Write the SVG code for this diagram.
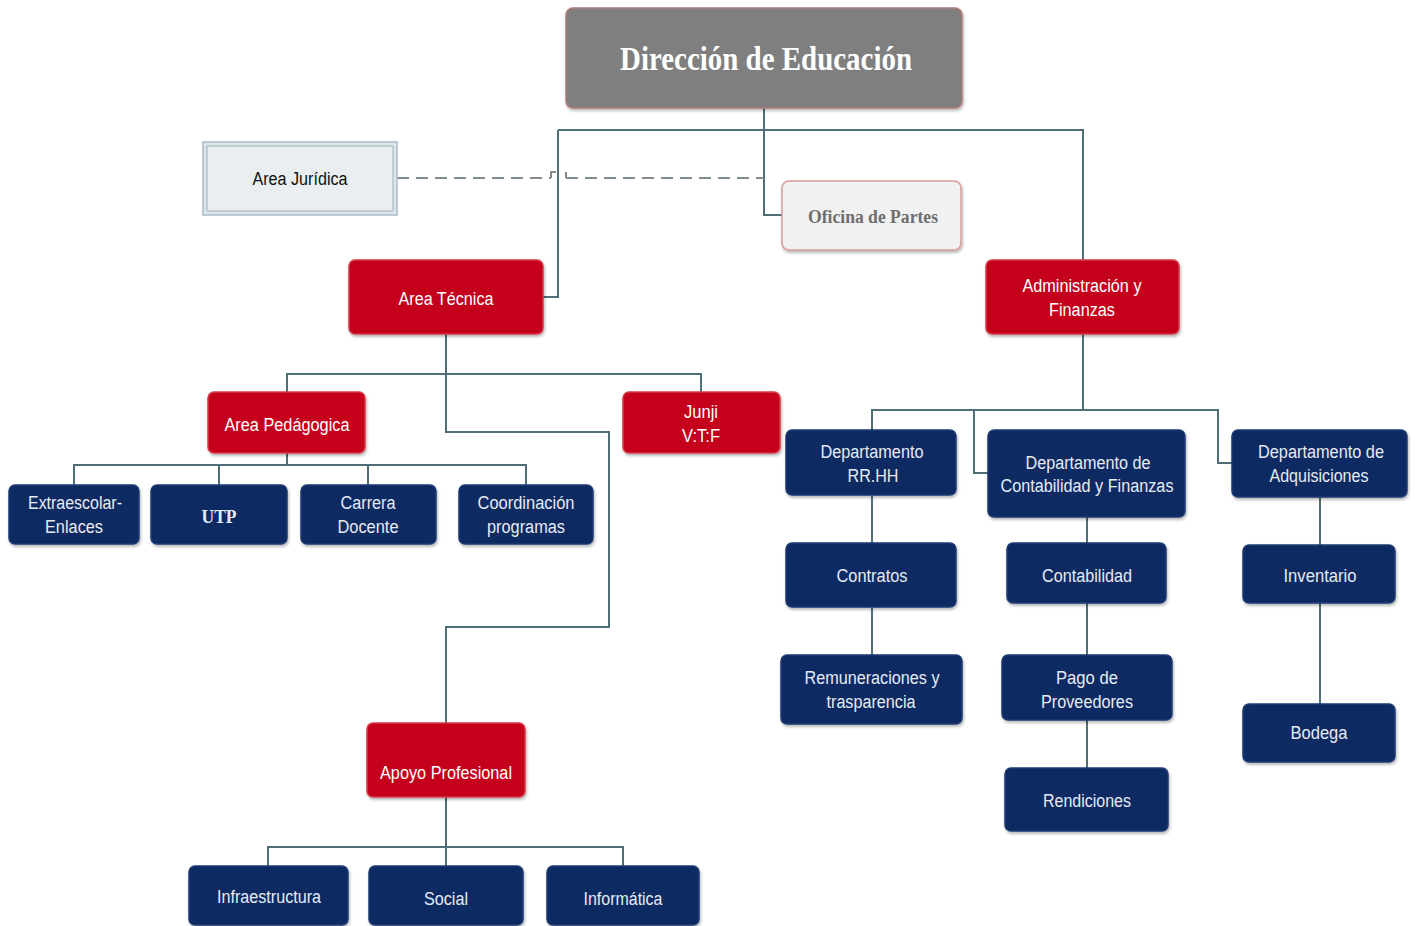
<svg xmlns="http://www.w3.org/2000/svg" width="1415" height="926" viewBox="0 0 1415 926">
<defs>
<style>
.t{font-family:"Liberation Sans",Arial,sans-serif;font-size:18px;text-anchor:middle;dominant-baseline:central}
.w{fill:#ffffff}
.l{fill:#e6eaf2}
.red{fill:#c4001a;stroke:#d63a48;stroke-width:1.5}
.navy{fill:#102c63;stroke:#1e3a72;stroke-width:1.5}
.c{fill:none;stroke:#4e6e78;stroke-width:2}
</style>
<filter id="sh" x="-5%" y="-5%" width="115%" height="125%"><feDropShadow dx="1" dy="2" stdDeviation="1.5" flood-color="#000" flood-opacity="0.3"/></filter>
</defs>
<rect width="1415" height="926" fill="#ffffff"/>

<g id="connectors">
<path class="c" d="M764,108 V215 H782"/>
<path class="c" d="M558,130 H1083 V260"/>
<path class="c" d="M558,130 V297 H543"/>
<path d="M397,178 H551 M551,178 v-6 h5 M566,172 v6 M566,178 H764" fill="none" stroke="#7f8b90" stroke-width="2" stroke-dasharray="12,7"/>
<path d="M551,172 h5 M566,172 v6" fill="none" stroke="#7f8b90" stroke-width="2"/>
<path class="c" d="M446,334 V432 H609 V627 H446 V723"/>
<path class="c" d="M287,392 V374 H701 V392"/>
<path class="c" d="M287,453 V465 M74,485 V465 H526 V485 M219,465 V485 M368,465 V485"/>
<path class="c" d="M446,797 V866 M268,866 V847 H623 V866"/>
<path class="c" d="M1083,334 V410 M872,430 V410 H1218 V463 H1232 M974,410 V473 H988"/>
<path class="c" d="M872,495 V655 M1087,517 V768 M1320,497 V704"/>
</g>

<g id="n-direccion">
<rect x="566" y="8" width="396" height="100" rx="7" fill="#7f7f7f" stroke="#b07a7a" stroke-width="1.5" filter="url(#sh)"/>
<text x="766" y="58" font-family="'Liberation Serif','Times New Roman',serif" font-weight="bold" font-size="34" fill="#ffffff" text-anchor="middle" dominant-baseline="central" textLength="292" lengthAdjust="spacingAndGlyphs">Dirección de Educación</text>
</g>
<g id="n-juridica">
<rect x="203" y="142" width="194" height="73" fill="#dde6ea" stroke="#a8bcc4" stroke-width="1.5"/>
<rect x="207" y="146" width="186" height="65" fill="#e9eef0" stroke="#b4c4ca" stroke-width="1.5"/>
<text class="t" x="300" y="179" font-size="17" fill="#111" textLength="95" lengthAdjust="spacingAndGlyphs">Area Jurídica</text>
</g>
<g id="n-oficina">
<rect x="782" y="181" width="179" height="69" rx="7" fill="#f1f1f1" stroke="#d99a9a" stroke-width="1.5" filter="url(#sh)"/>
<text x="873" y="217" font-family="'Liberation Serif','Times New Roman',serif" font-weight="bold" font-size="18" fill="#6e6e6e" text-anchor="middle" dominant-baseline="central" textLength="130" lengthAdjust="spacingAndGlyphs">Oficina de Partes</text>
</g>
<g id="n-tecnica">
<rect class="red" x="349" y="260" width="194" height="74" rx="6" filter="url(#sh)"/>
<text class="t w" x="446" y="299" textLength="95" lengthAdjust="spacingAndGlyphs">Area Técnica</text>
</g>
<g id="n-admin">
<rect class="red" x="986" y="260" width="193" height="74" rx="6" filter="url(#sh)"/>
<text class="t w" x="1082" y="286" textLength="119" lengthAdjust="spacingAndGlyphs">Administración y</text>
<text class="t w" x="1082" y="310" textLength="66" lengthAdjust="spacingAndGlyphs">Finanzas</text>
</g>
<g id="n-pedagogica">
<rect class="red" x="208" y="392" width="157" height="61" rx="6" filter="url(#sh)"/>
<text class="t w" x="287" y="425" textLength="125" lengthAdjust="spacingAndGlyphs">Area Pedágogica</text>
</g>
<g id="n-junji">
<rect class="red" x="623" y="392" width="157" height="61" rx="6" filter="url(#sh)"/>
<text class="t w" x="701" y="412" textLength="34" lengthAdjust="spacingAndGlyphs">Junji</text>
<text class="t w" x="701" y="436" textLength="38" lengthAdjust="spacingAndGlyphs">V:T:F</text>
</g>
<g id="n-extraescolar">
<rect class="navy" x="9" y="485" width="130" height="59" rx="6" filter="url(#sh)"/>
<text class="t l" x="75" y="503" textLength="94" lengthAdjust="spacingAndGlyphs">Extraescolar-</text>
<text class="t l" x="74" y="527" textLength="58" lengthAdjust="spacingAndGlyphs">Enlaces</text>
</g>
<g id="n-utp">
<rect class="navy" x="151" y="485" width="136" height="59" rx="6" filter="url(#sh)"/>
<text x="219" y="516" font-family="'Liberation Serif','Times New Roman',serif" font-weight="bold" font-size="19" fill="#e6eaf2" text-anchor="middle" dominant-baseline="central" textLength="35" lengthAdjust="spacingAndGlyphs">UTP</text>
</g>
<g id="n-carrera">
<rect class="navy" x="301" y="485" width="135" height="59" rx="6" filter="url(#sh)"/>
<text class="t l" x="368" y="503" textLength="55" lengthAdjust="spacingAndGlyphs">Carrera</text>
<text class="t l" x="368" y="527" textLength="61" lengthAdjust="spacingAndGlyphs">Docente</text>
</g>
<g id="n-coordinacion">
<rect class="navy" x="459" y="485" width="134" height="59" rx="6" filter="url(#sh)"/>
<text class="t l" x="526" y="503" textLength="97" lengthAdjust="spacingAndGlyphs">Coordinación</text>
<text class="t l" x="526" y="527" textLength="78" lengthAdjust="spacingAndGlyphs">programas</text>
</g>
<g id="n-apoyo">
<rect class="red" x="367" y="723" width="158" height="74" rx="6" filter="url(#sh)"/>
<text class="t w" x="446" y="773" textLength="132" lengthAdjust="spacingAndGlyphs">Apoyo Profesional</text>
</g>
<g id="n-infraestructura">
<rect class="navy" x="189" y="866" width="159" height="59" rx="6" filter="url(#sh)"/>
<text class="t l" x="269" y="897" textLength="104" lengthAdjust="spacingAndGlyphs">Infraestructura</text>
</g>
<g id="n-social">
<rect class="navy" x="369" y="866" width="154" height="59" rx="6" filter="url(#sh)"/>
<text class="t l" x="446" y="899" textLength="44" lengthAdjust="spacingAndGlyphs">Social</text>
</g>
<g id="n-informatica">
<rect class="navy" x="547" y="866" width="152" height="59" rx="6" filter="url(#sh)"/>
<text class="t l" x="623" y="899" textLength="79" lengthAdjust="spacingAndGlyphs">Informática</text>
</g>
<g id="n-rrhh">
<rect class="navy" x="786" y="430" width="170" height="65" rx="6" filter="url(#sh)"/>
<text class="t l" x="872" y="452" textLength="103" lengthAdjust="spacingAndGlyphs">Departamento</text>
<text class="t l" x="873" y="476" textLength="51" lengthAdjust="spacingAndGlyphs">RR.HH</text>
</g>
<g id="n-contfin">
<rect class="navy" x="988" y="430" width="197" height="87" rx="6" filter="url(#sh)"/>
<text class="t l" x="1088" y="463" textLength="125" lengthAdjust="spacingAndGlyphs">Departamento de</text>
<text class="t l" x="1087" y="486" textLength="173" lengthAdjust="spacingAndGlyphs">Contabilidad y Finanzas</text>
</g>
<g id="n-adquisiciones">
<rect class="navy" x="1232" y="430" width="175" height="67" rx="6" filter="url(#sh)"/>
<text class="t l" x="1321" y="452" textLength="126" lengthAdjust="spacingAndGlyphs">Departamento de</text>
<text class="t l" x="1319" y="476" textLength="99" lengthAdjust="spacingAndGlyphs">Adquisiciones</text>
</g>
<g id="n-contratos">
<rect class="navy" x="786" y="543" width="170" height="64" rx="6" filter="url(#sh)"/>
<text class="t l" x="872" y="576" textLength="71" lengthAdjust="spacingAndGlyphs">Contratos</text>
</g>
<g id="n-remuneraciones">
<rect class="navy" x="781" y="655" width="181" height="69" rx="6" filter="url(#sh)"/>
<text class="t l" x="872" y="678" textLength="135" lengthAdjust="spacingAndGlyphs">Remuneraciones y</text>
<text class="t l" x="871" y="702" textLength="89" lengthAdjust="spacingAndGlyphs">trasparencia</text>
</g>
<g id="n-contabilidad">
<rect class="navy" x="1007" y="543" width="159" height="60" rx="6" filter="url(#sh)"/>
<text class="t l" x="1087" y="576" textLength="90" lengthAdjust="spacingAndGlyphs">Contabilidad</text>
</g>
<g id="n-pago">
<rect class="navy" x="1002" y="655" width="170" height="65" rx="6" filter="url(#sh)"/>
<text class="t l" x="1087" y="678" textLength="62" lengthAdjust="spacingAndGlyphs">Pago de</text>
<text class="t l" x="1087" y="702" textLength="92" lengthAdjust="spacingAndGlyphs">Proveedores</text>
</g>
<g id="n-rendiciones">
<rect class="navy" x="1005" y="768" width="163" height="63" rx="6" filter="url(#sh)"/>
<text class="t l" x="1087" y="801" textLength="88" lengthAdjust="spacingAndGlyphs">Rendiciones</text>
</g>
<g id="n-inventario">
<rect class="navy" x="1243" y="545" width="152" height="58" rx="6" filter="url(#sh)"/>
<text class="t l" x="1320" y="576" textLength="73" lengthAdjust="spacingAndGlyphs">Inventario</text>
</g>
<g id="n-bodega">
<rect class="navy" x="1243" y="704" width="152" height="58" rx="6" filter="url(#sh)"/>
<text class="t l" x="1319" y="733" textLength="57" lengthAdjust="spacingAndGlyphs">Bodega</text>
</g>
</svg>
